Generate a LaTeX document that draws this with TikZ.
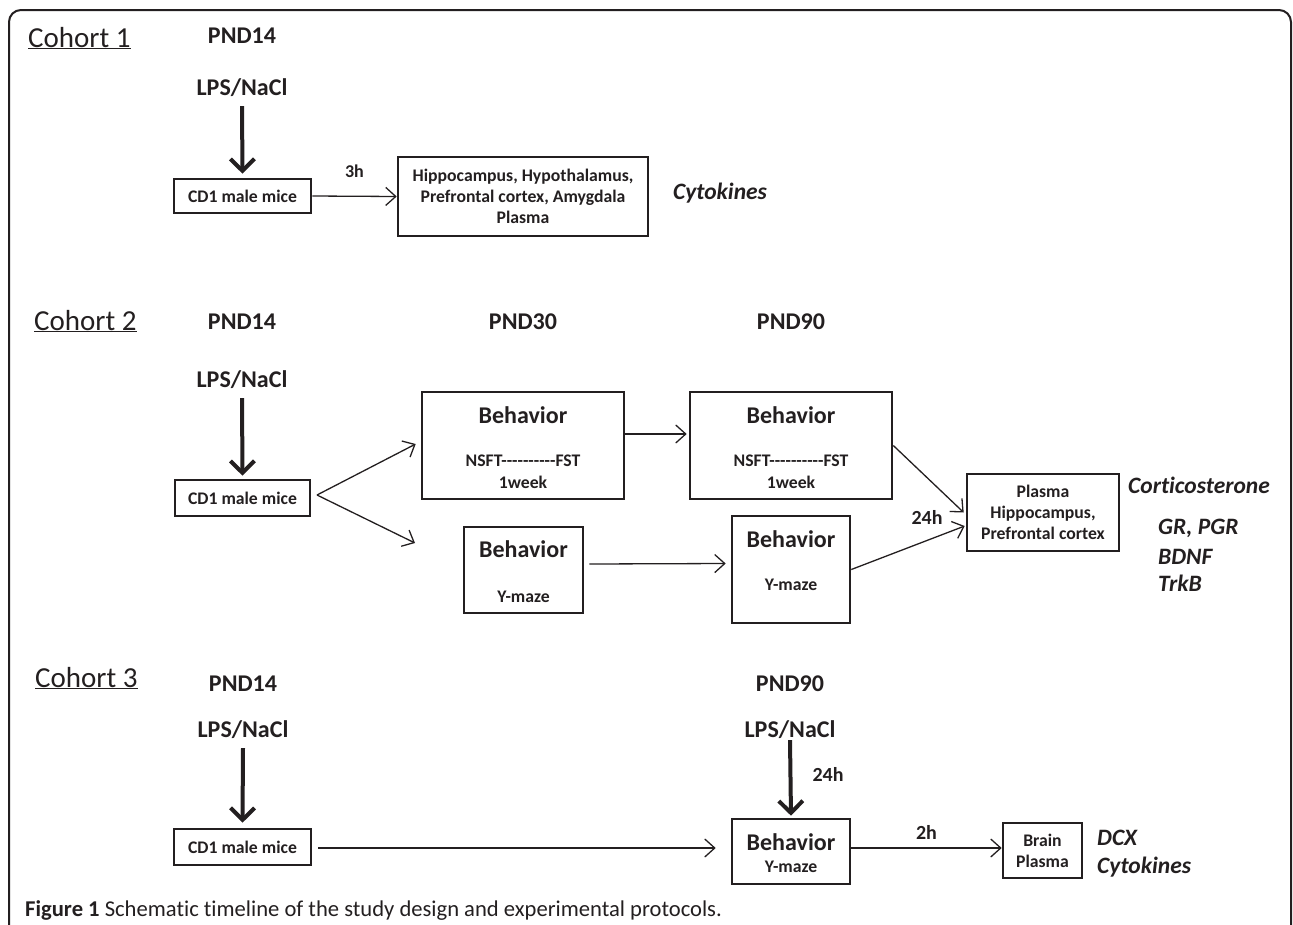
\documentclass[tikz,border=0pt]{standalone}
\usepackage{fontspec}
\setmainfont{Carlito}[Ligatures={NoCommon}]
\usetikzlibrary{arrows.meta}
\definecolor{ink}{RGB}{35,31,32}
\newcommand\fcoh{\fontsize{29}{33}\selectfont}
\newcommand\fbig{\fontsize{24}{28}\selectfont\bfseries}
\newcommand\fsml{\fontsize{17.7}{21}\selectfont\bfseries}
\newcommand\fhrs{\fontsize{20}{24}\selectfont\bfseries}
\newcommand\fres{\fontsize{23.5}{27}\selectfont\bfseries\itshape}
\newcommand\fcap{\fontsize{22.6}{26}\selectfont}
\newcommand\dashes{-{}-{}-{}-{}-{}-{}-{}-{}-{}-{}}
\tikzset{
  box/.style={draw=ink, line width=2.6pt, inner sep=0pt, align=center, text=ink, font=\fsml},
  big/.style={inner sep=0pt, text=ink, font=\fbig},
  sml/.style={inner sep=0pt, text=ink, font=\fsml},
  hrs/.style={inner sep=0pt, text=ink, font=\fhrs},
  res/.style={inner sep=0pt, text=ink, font=\fres, anchor=west},
  cohort/.style={inner sep=0pt, text=ink, font=\fcoh, anchor=base west},
  thinarrow/.style={draw=ink, line width=1.3pt, -{Straight Barb[length=10pt,width=18pt]}},
  bigarrow/.style={draw=ink, line width=4pt, -{Straight Barb[length=12pt,width=24pt]}},
}
\begin{document}
\begin{tikzpicture}[x=1pt, y=-1pt]
\useasboundingbox (0,0) rectangle (1293,924);
\draw[ink, line width=2pt, rounded corners=12pt] (9,930) -- (9,10) -- (1291,10) -- (1291,930); % frame

% Cohort 1
\node[cohort] (coh1) at (28,47) {\underline{Cohort 1}};
\node[big] (pnd1) at (242,36) {PND14};
\node[big] (lps1) at (242,88) {LPS/NaCl};
\node[box, minimum width=137pt, minimum height=34pt] (cd1) at (242.5,196) {CD1 male mice};
\node[box, minimum width=250pt, minimum height=79pt] (hip1) at (523,196.5) {Hippocampus, Hypothalamus,\\Prefrontal cortex, Amygdala\\Plasma};
\node[res, anchor=center] (cyt1) at (720,193) {Cytokines};
\draw[bigarrow] ([yshift=-9pt]lps1.south) -- ([yshift=4pt]cd1.north);
\draw[thinarrow] (cd1.east) -- (hip1.west) node[hrs, midway, above=18pt, font=\fontsize{18}{20}\selectfont\bfseries] (h3) {3h};

% Cohort 2
\node[cohort] (coh2) at (34,330) {\underline{Cohort 2}};
\node[big] (pnd2) at (242,322) {PND14};
\node[big] (pnd30) at (523,322) {PND30};
\node[big] (pnd90) at (791,322) {PND90};
\node[big] (lps2) at (242,380) {LPS/NaCl};
\node[box, minimum width=135pt, minimum height=36pt] (cd2) at (242.5,498) {CD1 male mice};
\node[box, minimum width=202pt, minimum height=107pt] (b1) at (523,445.5) {};
\node[big] (b1t) at (523,415) {Behavior};
\node[sml] (b1n) at (523,461) {NSFT\dashes FST};
\node[sml] (b1w) at (523,482) {1week};
\node[box, minimum width=202pt, minimum height=107pt] (b2) at (791,445.5) {};
\node[big] (b2t) at (791,415) {Behavior};
\node[sml] (b2n) at (791,461) {NSFT\dashes FST};
\node[sml] (b2w) at (791,482) {1week};
\node[box, minimum width=119pt, minimum height=86pt] (y1) at (523.5,570) {};
\node[big] (y1t) at (523.5,549) {Behavior};
\node[sml] (y1m) at (523.5,597) {Y-maze};
\node[box, minimum width=118pt, minimum height=107pt] (y2) at (791,569.5) {};
\node[big] (y2t) at (791,539) {Behavior};
\node[sml] (y2m) at (791,585) {Y-maze};
\node[box, minimum width=152pt, minimum height=77pt] (pl2) at (1043,512.5) {Plasma\\Hippocampus,\\Prefrontal cortex};
\node[hrs] (h24a) at (927,517) {24h};
\node[res, anchor=center] (cort) at (1199,485) {Corticosterone};
\node[res] (gr) at (1158,528) {GR, PGR};
\node[res] (bdnf) at (1158,557) {BDNF};
\node[res] (trkb) at (1158,583) {TrkB};
\coordinate (fork) at (317,495);
\coordinate (yend) at (415,543);
\draw[bigarrow] ([yshift=-9pt]lps2.south) -- ([yshift=3pt]cd2.north);
\draw[thinarrow] (fork) -- ([xshift=-5pt,yshift=1.5pt]b1.west);
\draw[thinarrow] (fork) -- (yend);
\draw[thinarrow] ([yshift=11.5pt]b1.east) -- ([xshift=-2pt,yshift=11.5pt]b2.west);
\draw[thinarrow] ([xshift=5pt,yshift=6pt]y1.east) -- ([xshift=-5pt,yshift=6pt]y2.west);
\draw[thinarrow] (b2.east) -- ([xshift=-2pt]pl2.west);
\draw[thinarrow] (y2.east) -- ([xshift=-1pt,yshift=-13.5pt]pl2.west);

% Cohort 3
\node[cohort] (coh3) at (35,687) {\underline{Cohort 3}};
\node[big] (pnd3) at (243,684) {PND14};
\node[big] (pnd3b) at (790,684) {PND90};
\node[big] (lps3) at (243,730) {LPS/NaCl};
\node[big] (lps3b) at (790,730) {LPS/NaCl};
\node[box, minimum width=137pt, minimum height=36pt] (cd3) at (242.5,847) {CD1 male mice};
\node[box, minimum width=118pt, minimum height=65pt] (y3) at (791,851.5) {};
\node[big] (y3t) at (791,842) {Behavior};
\node[sml] (y3m) at (791,867) {Y-maze};
\node[box, minimum width=79pt, minimum height=55pt] (br3) at (1042.5,850.5) {Brain\\Plasma};
\node[hrs] (h24b) at (828,774) {24h};
\node[res] (dcx) at (1097,838) {DCX};
\node[res] (cyt3) at (1097,867) {Cytokines};
\draw[bigarrow] ([yshift=-9pt]lps3.south) -- ([yshift=5pt]cd3.north);
\draw[bigarrow] ([yshift=-1pt]lps3b.south) -- ([yshift=2pt]y3.north);
\draw[thinarrow] ([xshift=6pt,yshift=-1pt]cd3.east) -- ([xshift=-15pt,yshift=3.5pt]y3.west);
\draw[thinarrow] ([yshift=3.5pt]y3.east) -- ([yshift=2.5pt]br3.west) node[hrs, midway, above=8pt] (h2) {2h};

% caption
\node[inner sep=0pt, text=ink, font=\fcap, anchor=base west] (cap) at (25,916) {\textbf{Figure 1} Schematic timeline of the study design and experimental protocols.};
\end{tikzpicture}
\end{document}
